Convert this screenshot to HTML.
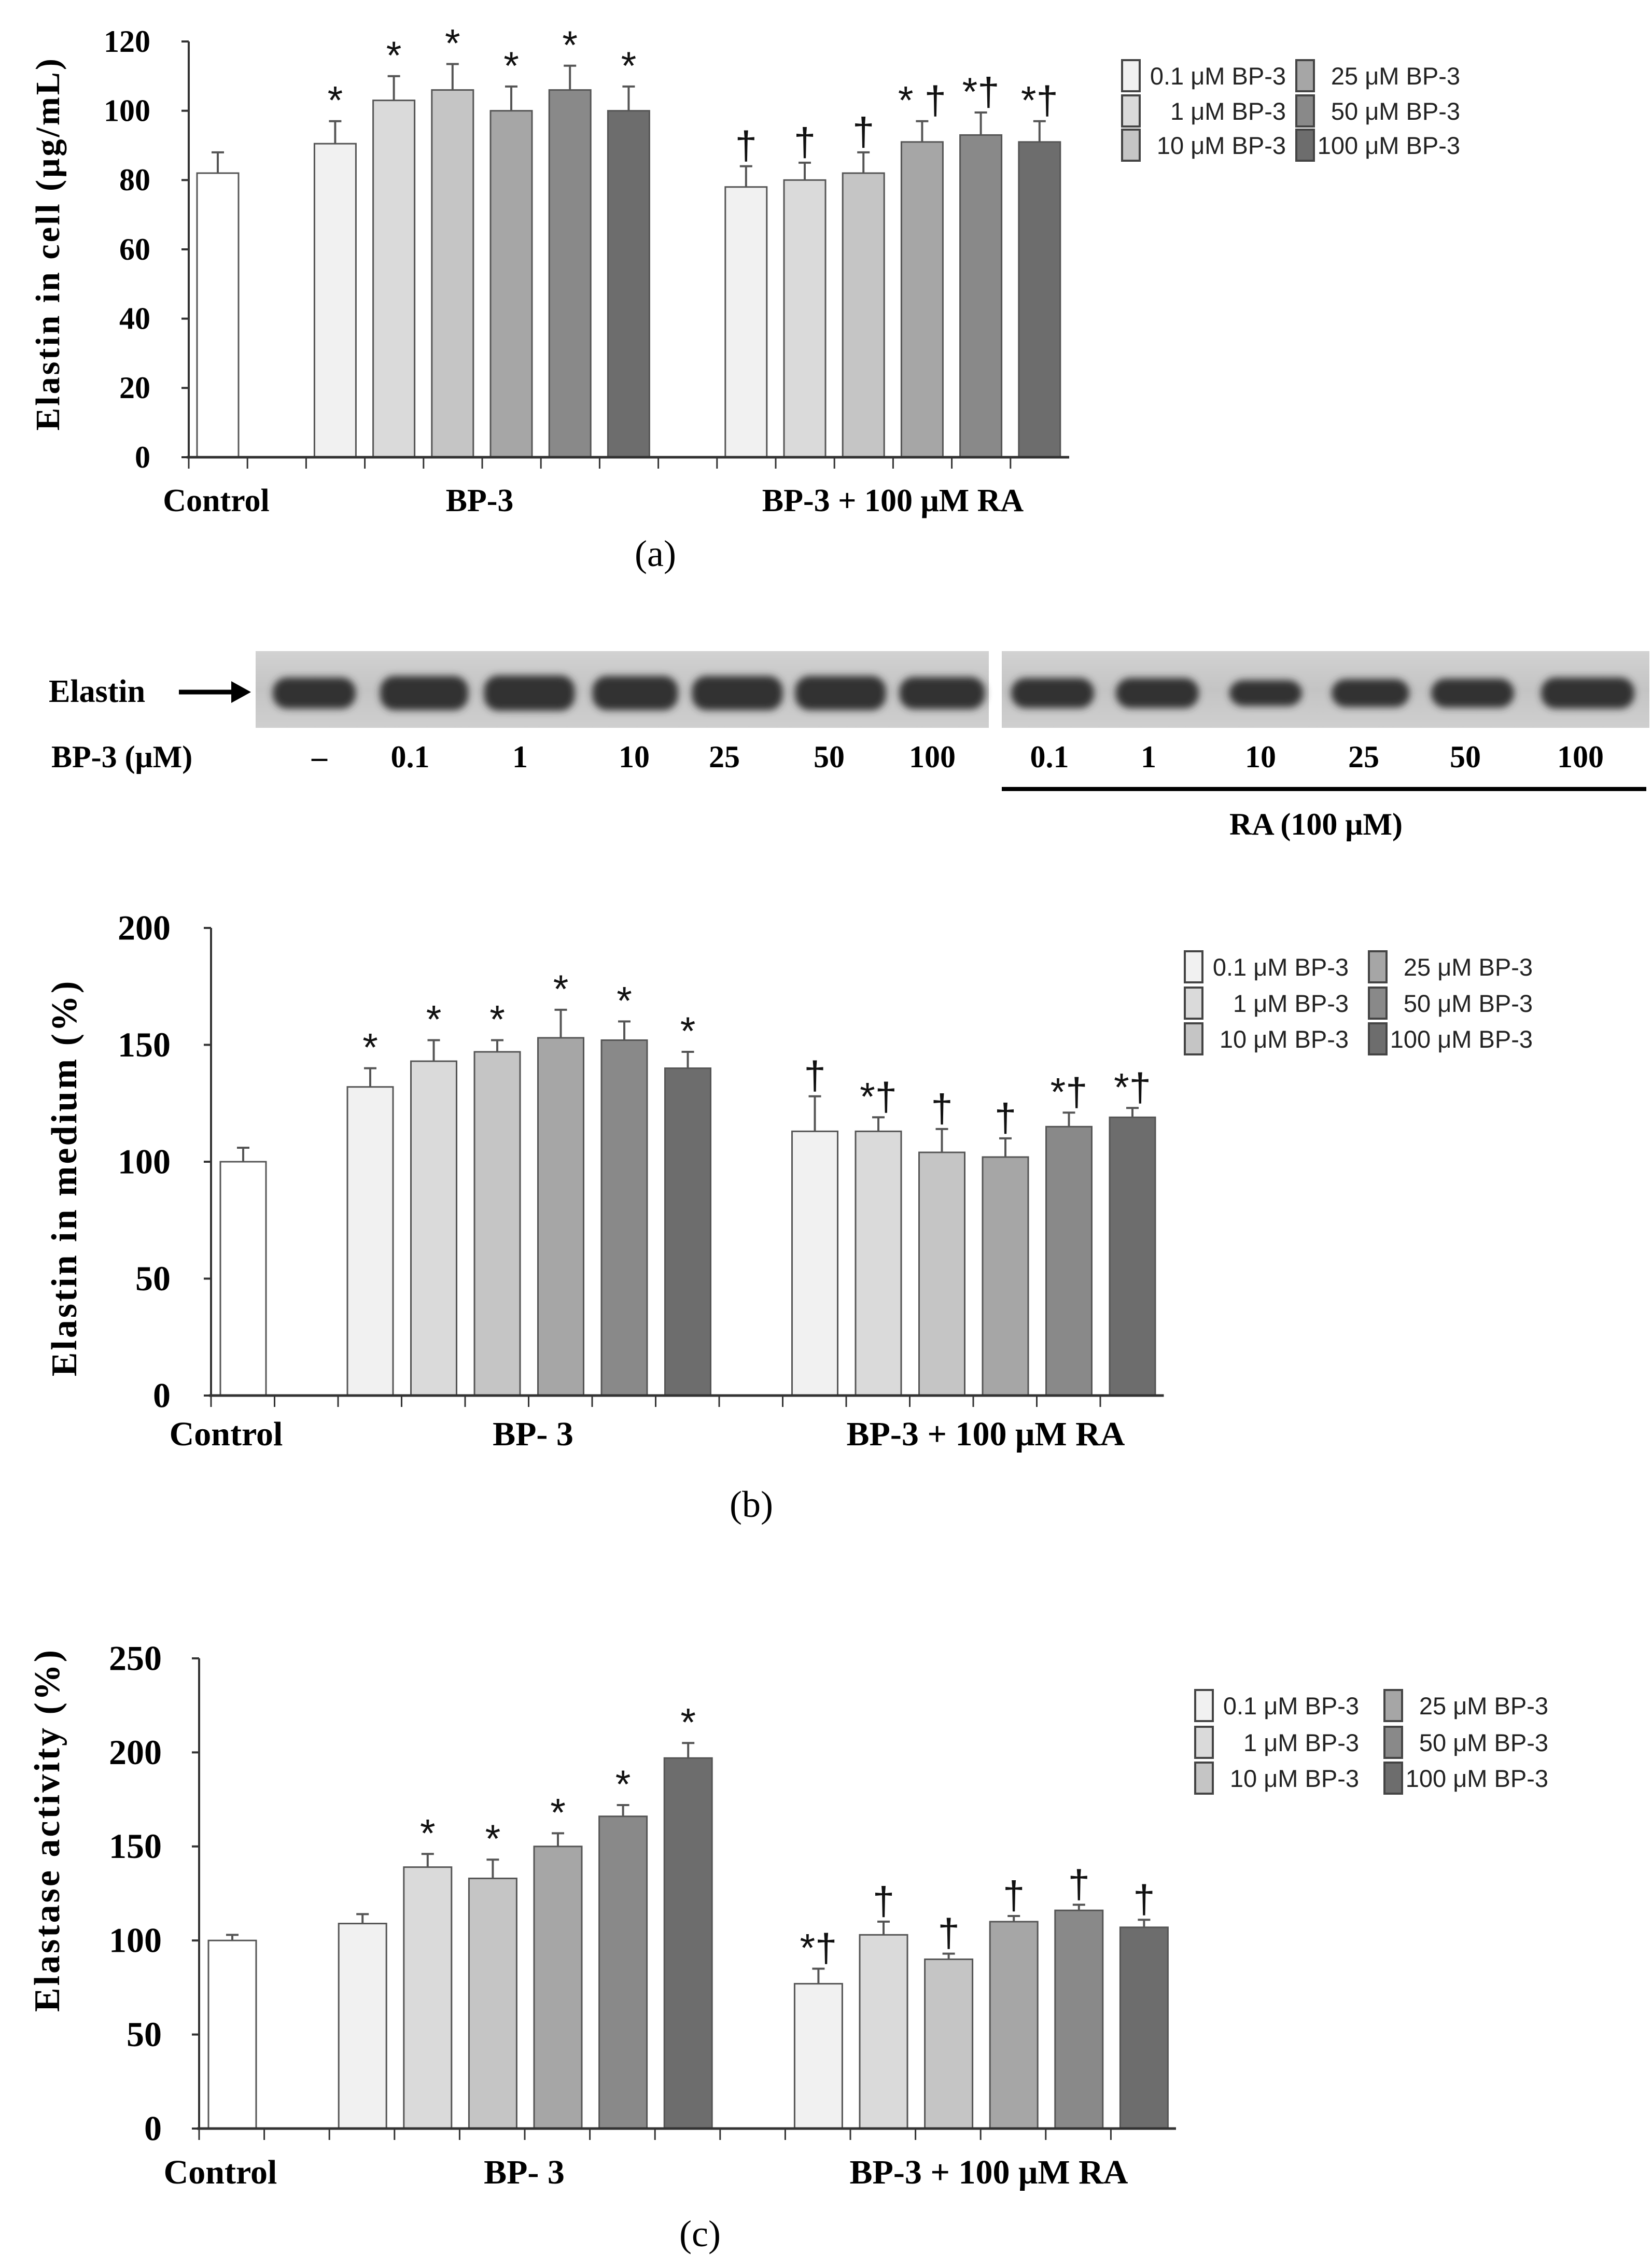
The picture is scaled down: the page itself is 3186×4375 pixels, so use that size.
<!DOCTYPE html>
<html><head><meta charset="utf-8"><style>
html,body{margin:0;padding:0;background:#fff;}
svg{display:block;}
.ser{font-family:"Liberation Serif",serif;font-weight:bold;fill:#000;}
.san{font-family:"Liberation Sans",sans-serif;fill:#222;}
</style></head><body>
<svg id="fig" width="3186" height="4375" viewBox="0 0 3186 4375" xmlns="http://www.w3.org/2000/svg">
<defs>
  <filter id="blur" x="-20%" y="-50%" width="140%" height="200%"><feGaussianBlur stdDeviation="7"/></filter>
  <linearGradient id="blotbg" x1="0" y1="0" x2="0" y2="1">
    <stop offset="0" stop-color="#d2d2d2"/><stop offset="0.5" stop-color="#c4c4c4"/><stop offset="1" stop-color="#cfcfcf"/>
  </linearGradient>
</defs>
<rect width="3186" height="4375" fill="#fff"/>
<g id="blot">
  <rect x="493" y="1256" width="1414" height="148" fill="url(#blotbg)"/>
  <rect x="1932" y="1256" width="1249" height="148" fill="url(#blotbg)"/>
  <text class="ser" x="94" y="1354" font-size="62">Elastin</text>
  <line x1="345" y1="1335" x2="455" y2="1335" stroke="#000" stroke-width="9"/>
  <polygon points="484,1335 446,1314 446,1356" fill="#000"/>
  <text class="ser" x="99" y="1480" font-size="60">BP-3 (μM)</text>
  <line x1="1932" y1="1522" x2="3175" y2="1522" stroke="#000" stroke-width="8"/>
  <text class="ser" x="2538" y="1610" font-size="60" text-anchor="middle">RA (100 μM)</text>
</g>
<g id="chartA"></g>
<g id="chartB"></g>
<g id="chartC"></g>
</svg>
<script>
// ---- Data ----
const legendLabels = ["0.1 μM BP-3","1 μM BP-3","10 μM BP-3","25 μM BP-3","50 μM BP-3","100 μM BP-3"];
const groupLabelsA = ["Control","BP-3","BP-3 + 100 μM RA"];
const groupLabelsBC = ["Control","BP- 3","BP-3 + 100 μM RA"];

const ticksA = [0,20,40,60,80,100,120];
const valuesA = [82, 90.5,103,106,100,106,100, 78,80,82,91,93,91];
const errorsA = [6, 6.5,7,7.5,7,7,7, 6,5,6,6,6.5,6];
const marksA  = ["", "*","*","*","*","*","*", "†","†","†","* †","*†","*†"];

const ticksB = [0,50,100,150,200];
const valuesB = [100, 132,143,147,153,152,140, 113,113,104,102,115,119];
const errorsB = [6, 8,9,5,12,8,7, 15,6,10,8,6,4];
const marksB  = ["", "*","*","*","*","*","*", "†","*†","†","†","*†","*†"];

const ticksC = [0,50,100,150,200,250];
const valuesC = [100, 109,139,133,150,166,197, 77,103,90,110,116,107];
const errorsC = [3, 5,7,10,7,6,8, 8,7,3,3,3,4];
const marksC  = ["", "","*","*","*","*","*", "*†","†","†","†","†","†"];

const laneLabels = ["–","0.1","1","10","25","50","100","0.1","1","10","25","50","100"];
const bandWidths = [160,170,175,165,175,175,165,160,160,140,150,160,180];
const bandHeights = [60,66,68,66,66,66,62,58,58,50,54,56,60];

// ---- helpers ----
const NS = "http://www.w3.org/2000/svg";
function mk(tag, attrs, parent){
  const e = document.createElementNS(NS, tag);
  for (const k in attrs) e.setAttribute(k, attrs[k]);
  parent.appendChild(e); return e;
}
const fills = ["#ffffff","#f1f1f1","#dadada","#c5c5c5","#a6a6a6","#898989","#6d6d6d"];
const slotIdx = [0,2,3,4,5,6,7,9,10,11,12,13,14];
const fillIdx = [0,1,2,3,4,5,6,1,2,3,4,5,6];

// ---- blot ----
const blot = document.getElementById("blot");
const laneX = [606,818,1021,1225,1422,1621,1817,2030,2232,2441,2643,2840,3062];
const labelX = [616,791,1003,1223,1397,1599,1798,2024,2215,2431,2630,2826,3048];
laneLabels.forEach((l,i)=>{
  const b = mk("rect",{x:laneX[i]-bandWidths[i]/2,y:1337-bandHeights[i]/2,width:bandWidths[i],height:bandHeights[i],rx:28,fill:"#333",filter:"url(#blur)"},blot);
  
  
  const t = mk("text",{x:labelX[i],y:1480,"font-size":60,"text-anchor":"middle",class:"ser"},blot);
  t.textContent = l;
  
  
});

function drawChart(gid, cfg){
  const g = document.getElementById(gid);
  const y = v => cfg.y0 + (cfg.yTop - cfg.y0) * v / cfg.ymax;
  const sx = i => cfg.x0 + i*cfg.slot;
  const ya = mk("line",{x1:cfg.x0,y1:cfg.y0,x2:cfg.x0,y2:cfg.yTop,stroke:"#333","stroke-width":4},g);
  
  
  cfg.ticks.forEach(v=>{
    const tk = mk("line",{x1:cfg.x0-14,y1:y(v),x2:cfg.x0,y2:y(v),stroke:"#333","stroke-width":4},g);
    
    
    const t = mk("text",{x:cfg.labR,y:y(v)+cfg.fs*0.33,"font-size":cfg.fs,"text-anchor":"end",class:"ser"},g);
    t.textContent = v;
    
    
  });
  const yt = mk("text",{x:0,y:0,"font-size":cfg.titleFs,"text-anchor":"middle",class:"ser",transform:`translate(${cfg.titleX},${cfg.titleY}) rotate(-90)`,"letter-spacing":4},g);
  yt.textContent = cfg.title;
  
  
  cfg.values.forEach((v,k)=>{
    const i = slotIdx[k];
    const bx = sx(i)+cfg.off;
    const top = y(v);
    const eTop = y(v+cfg.errors[k]);
    const cx = bx + cfg.bw/2;
    const el = mk("line",{x1:cx,y1:top,x2:cx,y2:eTop,stroke:"#555","stroke-width":4},g);
    
    
    const cap = mk("line",{x1:cx-12,y1:eTop,x2:cx+12,y2:eTop,stroke:"#555","stroke-width":4},g);
    
    
    const r = mk("rect",{x:bx,y:top,width:cfg.bw,height:cfg.y0-top,fill:fills[fillIdx[k]],stroke:"#555","stroke-width":3},g);
    
    
    if (cfg.marks[k]){
      const m = mk("text",{x:cx,y:eTop-14,"font-size":76,"text-anchor":"middle",class:"san",style:"fill:#111"},g);
      m.textContent = cfg.marks[k];
      
      
    }
  });
  const xa = mk("line",{x1:cfg.x0-4,y1:cfg.y0,x2:sx(15),y2:cfg.y0,stroke:"#333","stroke-width":5},g);
  
  
  for(let i=0;i<15;i++){
    const tk = mk("line",{x1:sx(i),y1:cfg.y0,x2:sx(i),y2:cfg.y0+22,stroke:"#333","stroke-width":3},g);
    
    
  }
  cfg.groups.forEach((l,i)=>{
    const t = mk("text",{x:cfg.groupX[i],y:cfg.groupY,"font-size":cfg.gfs,"text-anchor":"middle",class:"ser"},g);
    t.textContent = l;
    
    
  });
  const pl = mk("text",{x:cfg.panelX,y:cfg.panelY,"font-size":72,"text-anchor":"middle",class:"ser",style:"font-weight:normal"},g);
  pl.textContent = cfg.panel;
  
  
  legendLabels.forEach((l,k)=>{
    const col = Math.floor(k/3), row = k%3;
    const bx = cfg.legX[col], ry = cfg.legY[row];
    const r = mk("rect",{x:bx,y:ry-cfg.legH/2,width:34,height:cfg.legH,fill:fills[k+1],stroke:"#444","stroke-width":4},g);
    
    
    const t = mk("text",{x:bx+316,y:ry+17,"font-size":47,"text-anchor":"end",class:"san"},g);
    t.textContent = l;
    
    
  });
}

drawChart("chartA",{x0:364,slot:113.2,off:16,bw:80,y0:882,yTop:80,ymax:120,ticks:ticksA,
  values:valuesA,errors:errorsA,marks:marksA,labR:290,fs:60,
  title:"Elastin in cell (μg/mL)",titleFs:66,titleX:114,titleY:470,
  groups:groupLabelsA,groupX:[417,925,1722],groupY:986,gfs:62,panel:"(a)",panelX:1264,panelY:1092,
  legX:[2164,2500],legY:[146,214,280],legH:60});
drawChart("chartB",{x0:407,slot:122.5,off:18,bw:88,y0:2692,yTop:1790,ymax:200,ticks:ticksB,
  values:valuesB,errors:errorsB,marks:marksB,labR:329,fs:68,
  title:"Elastin in medium (%)",titleFs:70,titleX:147,titleY:2272,
  groups:groupLabelsBC,groupX:[436,1028,1901],groupY:2788,gfs:66,panel:"(b)",panelX:1449,panelY:2926,
  legX:[2285,2640],legY:[1865,1935,2004],legH:60});
drawChart("chartC",{x0:384,slot:125.6,off:18,bw:92,y0:4106,yTop:3199,ymax:250,ticks:ticksC,
  values:valuesC,errors:errorsC,marks:marksC,labR:312,fs:68,
  title:"Elastase activity (%)",titleFs:70,titleX:114,titleY:3530,
  groups:groupLabelsBC,groupX:[425,1011,1907],groupY:4212,gfs:66,panel:"(c)",panelX:1350,panelY:4333,
  legX:[2305,2670],legY:[3290,3361,3430],legH:60});
</script>
</body></html>
